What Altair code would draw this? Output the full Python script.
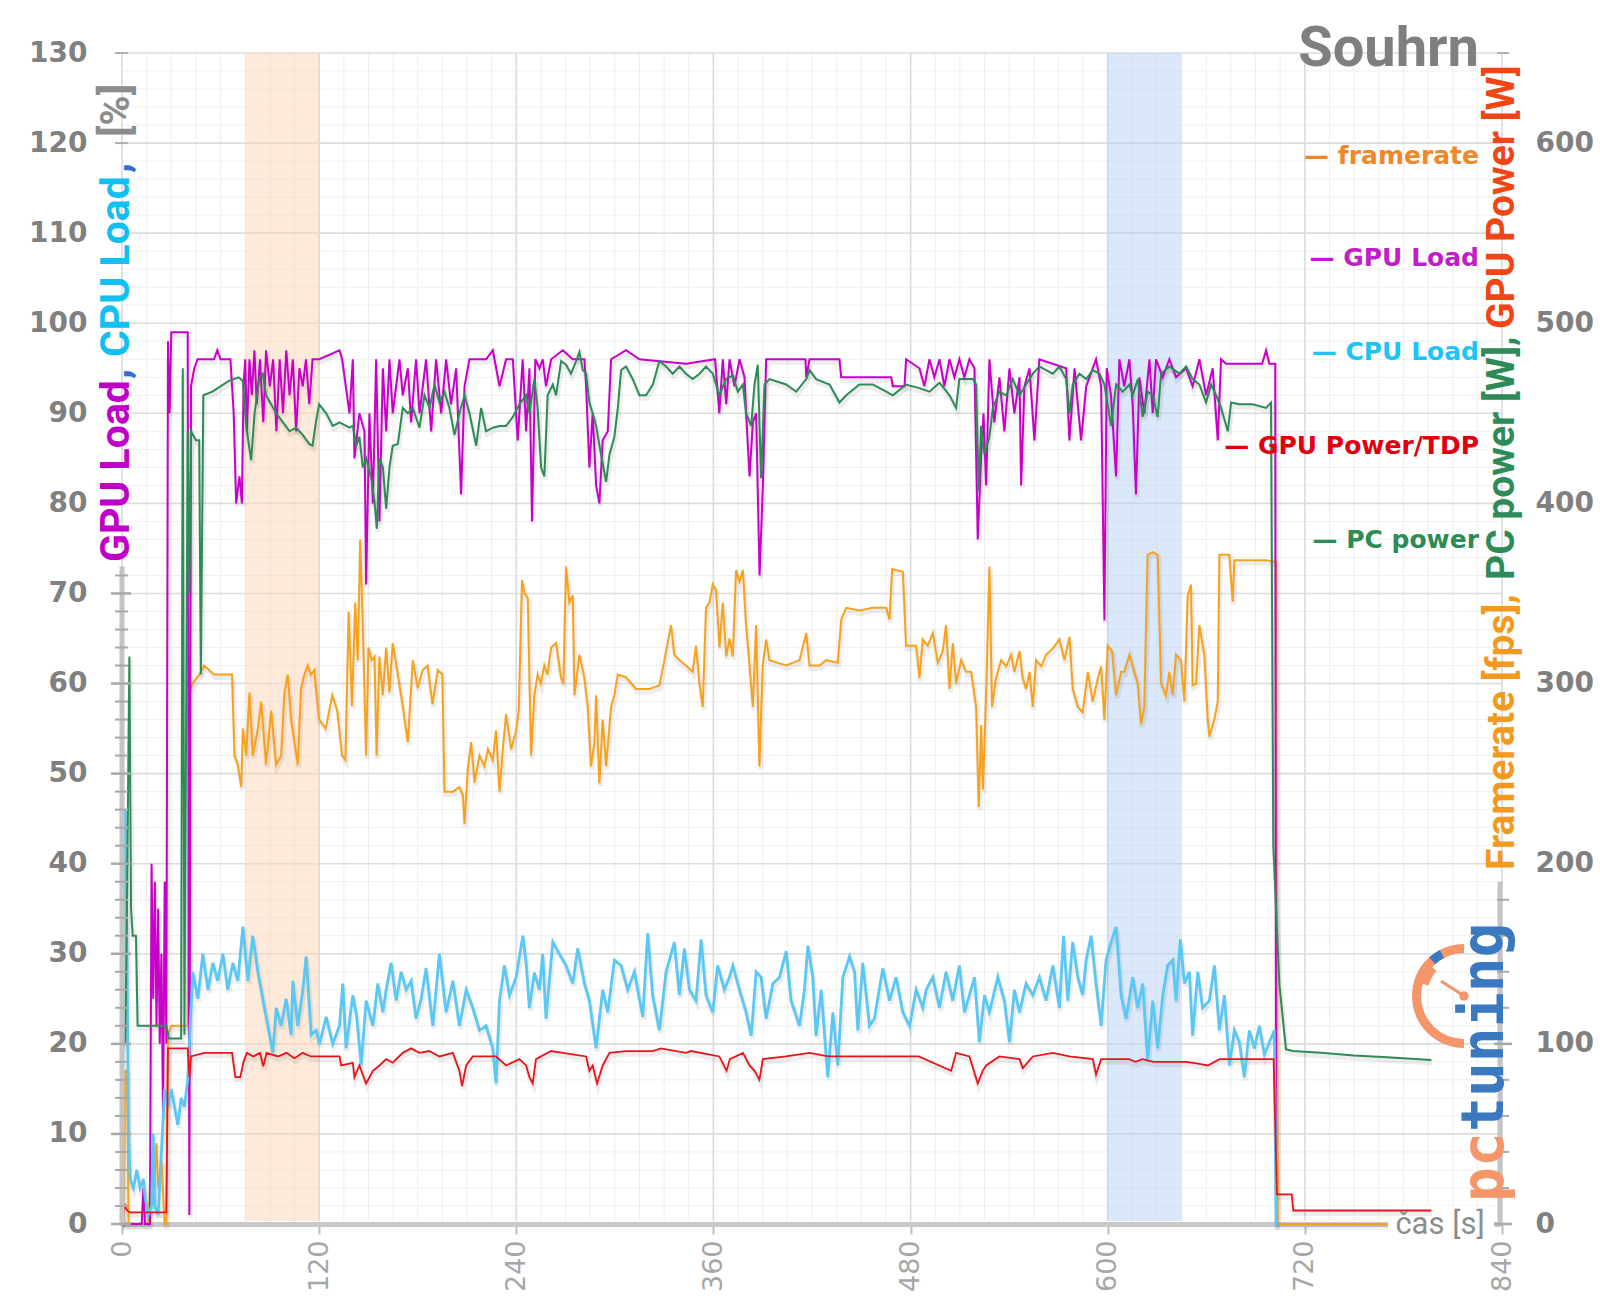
import altair as alt
import pandas as pd

# ---------------- data ----------------
FRAMERATE = [(0,0),(1,0),(2,17),(3,17),(4,0),(16,0),(18,8),(19,2),(21,9),(22,4),(24,7),(26,0),(27,0),(28,21),(30,22),(40,22),(41,59),(43,60),(47,61),(50,62),(56,61),(67,61),(68.5,52),(70.5,51),(72.6,48.5),(73.6,55),(75.6,52),(77.6,59),(79.6,52),(82.7,55),(84.7,58),(87.7,51),(90.8,57),(93.8,51),(96.9,52),(98.9,59),(100.9,61),(103,56),(105,53.5),(107,51),(109,59.5),(111,61),(113,62),(115,61),(117,61.5),(120,56),(124,55),(128,58.7),(131,57),(134,52),(136,51.5),(138,68),(140,57.5),(142,69),(143.5,62.6),(145,76),(146.5,67),(148.6,52),(150,64),(152,62.6),(153.7,63),(155,52),(156.7,63),(158.7,58.7),(160.8,64),(162.8,59),(164.8,64.5),(167.9,61),(170.9,57.5),(174,53.5),(177,62.6),(180,59.5),(183,61.5),(186,62),(189,57.7),(192.2,61.5),(195,61),(196.3,48),(201.4,48),(205.4,48.5),(207.5,47.6),(208.5,44.4),(210.5,50.5),(212.5,53.5),(214.6,49),(217.6,52),(220.6,50.8),(222.7,52.7),(225.7,51.5),(227.7,54.8),(229.8,48),(231.8,52.7),(233.8,56.6),(236.9,52.7),(239.9,54.8),(241.5,57),(243.5,71.5),(245,70),(247,69.5),(249,52),(251,58.7),(253,61),(255,60),(257,62),(259,61),(261.2,64),(264.2,64.5),(267.3,60.6),(268.7,60),(270.3,73),(272.3,69),(274.4,69.8),(275.4,58.7),(278.4,63.2),(281.5,60.6),(283.5,57.4),(285.5,50.8),(287.6,53.5),(288.6,58.7),(290.6,48.9),(292.6,56),(294.7,50.8),(297.7,57.4),(299.7,58.7),(301.8,61),(306.8,60.7),(312.9,59.4),(321,59.4),(327.1,59.8),(329.1,61.6),(331.2,63.6),(334.2,66.5),(336.2,63.2),(339.3,62.6),(343.3,62),(347.4,61.3),(349.4,64.2),(351.5,60),(353.5,57.4),(355.5,68.4),(357.6,69),(359.6,71),(361.6,70.4),(363.7,64),(365.7,69),(367.8,63),(369.8,65),(371.8,63),(373.8,72.6),(375.9,71.3),(377.9,72.6),(379.9,66.5),(382,62),(384,57.4),(386,66.5),(388,50.8),(390,62),(392.1,64.9),(394.1,62.6),(404.3,62),(412.4,62.6),(416.5,65.6),(418.5,62),(424.6,62),(428.6,62.6),(435.7,62.3),(437.8,67.1),(440.8,68.4),(449,68.1),(457,68.4),(465.2,68.4),(467.2,67.1),(468.8,72.7),(475.3,72.4),(477.3,64.2),(483.4,64.2),(485.4,60.6),(487.4,64.9),(490.5,64.2),(493.5,65.6),(496.6,62.3),(499.6,63.6),(501.6,66.5),(503.7,59.4),(505.7,64.5),(507.7,60),(510.8,62.6),(513.8,61.3),(516.9,61.3),(519.9,57.4),(521.5,46.3),(523,55.4),(524,48.2),(526,58.7),(528,73),(529.6,57.4),(532,60.6),(535.1,62.6),(538.2,61.9),(541.2,63.2),(543.2,61.3),(546.3,63.6),(548.3,60.6),(550.3,59.4),(552.4,61.3),(554.4,57.4),(556.4,62.6),(559.5,61.9),(562.5,63.2),(566.6,63.9),(570.6,64.9),(573.7,62.6),(576.7,65.2),(578.7,59.4),(581.8,57.4),(584.8,56.8),(587.9,61.3),(590.9,58),(594,60.6),(596,61.9),(598,56),(600,64.2),(602.7,63.6),(605.1,58.7),(608.2,61.3),(610.1,61.3),(613.2,63.2),(616.2,61.3),(618.3,60),(620.3,55.5),(622.3,57.4),(624.3,74.3),(627.4,74.6),(630.4,74.3),(632.5,60),(635.5,58.7),(637.5,61.3),(639.6,58.7),(641.6,63.2),(644.6,62.6),(646.7,58),(648.7,69.8),(650.7,71),(651.7,59.8),(653.8,60),(655.8,66.5),(658.8,63.2),(660.9,56),(661.9,54.1),(664.9,56),(667,58),(668,74.3),(674,74.3),(676.1,69.1),(677.1,73.7),(680.1,73.7),(696.4,73.7),(702.5,73.5),(703.5,0),(770,0)]

GPU_LOAD = [(0,0),(12,0),(13,4),(14,0),(17,0),(18,40),(19,25),(20,38),(21,22),(22,35),(23,20),(24,30),(25,12),(26,38),(27,20),(28,98),(29,90),(30,99),(40,99),(41,1),(42,93),(44,95),(46,96),(56,96),(58,97),(60,96),(66,96),(68,90),(69.5,80),(71.5,83),(73,80),(74,93),(75,96),(76,88),(77.6,96),(79,92),(80.6,97),(82,91),(84,96),(86,89),(87.7,97),(90,93),(92,96),(94,88),(96,96),(98,90),(100,97),(102,92),(104,96),(106,88),(108,95),(110,93),(112,96),(114,91),(116,96),(120,96),(132.4,97),(134,96),(138.5,90),(140.5,96),(141.5,85),(144.5,90),(147.6,88),(148.6,71),(150.6,90),(152.7,80),(154.7,96),(156.7,78),(158.8,95),(160.8,88),(162.8,96),(164.8,90),(168.9,96),(170.9,92),(174,95),(176,89),(179,96),(181.1,90),(185.1,96),(188.2,88),(191.2,96),(194.3,90),(197.3,96),(200.3,91),(203.4,95),(206.4,81),(208.5,93),(211.5,96),(221.6,96),(225.7,97),(229.8,93),(233.8,96),(237.9,96),(240.9,87),(243.9,96),(246,88),(248,95),(249.6,78),(251.6,96),(254.1,95),(256.1,96),(258.1,93),(261.2,96),(268.3,97),(274.4,96),(281.5,96),(282.5,93),(284.5,84),(286.5,90),(288.6,82),(290.6,80),(292.6,87),(295.7,88),(297.7,96),(306.8,97),(315,96),(343.3,95.5),(361,96),(363.6,90),(365.7,96),(367.8,91),(369.8,96),(372.8,93),(375.9,96),(378.9,94),(379.9,90),(382,83),(384,89),(386,90),(388.1,72),(390.1,82),(392.1,96),(416,96),(416.5,94),(418.5,96),(436.7,96),(437.8,94),(468.2,94),(469.2,93),(476.3,93),(477.3,96),(485.4,95),(488.4,93),(491.5,96),(494.5,94),(497.6,96),(500.6,93),(503.7,96),(506.7,94),(509.7,96),(512.8,94),(515.8,96),(518.9,95),(520.9,76),(522.9,85),(524.4,90),(526,82),(528,96),(531,89),(534.1,94),(537.1,88),(540.2,95),(543.2,90),(546.3,94),(547.3,82),(549.3,93),(552.4,95),(555.4,87),(558.4,96),(574.7,95),(576.7,87),(579.8,95),(583.8,87),(586.9,93),(592.9,96),(596,93),(598,67),(599.4,95),(602,92),(605.1,83),(607.1,96),(610.1,93),(613.2,96),(615.2,91),(617.2,81),(619.3,94),(622.3,90),(625.4,96),(627.4,90),(629.4,96),(633.5,94),(637.5,96),(641.6,94),(647.7,95),(651.7,93),(655.8,96),(659.9,92),(663.9,95),(667,87),(669,96),(672,95.5),(694,95.5),(696.4,97),(698.4,95.5),(702,95.5),(702.5,0),(704,0)]

CPU_LOAD = [(0,0),(1,45),(2,46),(3,30),(4,10),(5,5),(7,4),(9,6),(11,4),(13,5),(14,3),(16,1),(18,2),(19,10),(20,2),(22,1),(24,8),(26,15),(28,13),(30,15),(32,13),(34,11),(36,14),(38,13),(40,16),(41,20),(43.1,28),(46.2,25),(49.2,30),(52.3,26),(55.3,29),(58.3,27),(61.4,30),(64.4,26),(67.5,29),(70.5,27),(73.6,33),(76.6,27),(79.6,32),(82.7,28),(85.7,25),(88.8,22),(91.8,19),(93.9,24),(96.9,22),(99.9,25),(103,21),(104,27),(107,22),(110.1,26),(112.1,29.7),(115.2,21),(118.2,21.5),(120.2,20),(124.3,23),(128.3,20),(132.4,22),(134.4,26.7),(136.4,19.5),(140.5,25.4),(142.9,23),(145.6,17.6),(148.6,24.8),(152.7,22),(155.7,26.7),(158.8,23.5),(160.8,26),(163.8,29),(166.9,24.8),(169.9,28),(173,26),(176,27),(179,22.8),(182.1,25),(185.1,28.4),(189.2,22),(193.2,30),(197.3,23.5),(201.4,27),(205.4,22),(209.5,26),(213.5,24),(217.6,21.5),(221.6,22),(225.7,19.5),(227.7,15.6),(229.8,24.8),(232.8,28.7),(235.9,25.4),(239.9,27.4),(244,32),(246,29),(248,24),(251,27.9),(254.1,26),(256.1,30),(258.1,22.8),(262.2,31.3),(266.2,30),(270.3,28.7),(274.4,26.7),(277.4,30.6),(281.5,26.7),(284.5,24.8),(288.6,19.5),(292.6,26),(295.7,23.5),(299.7,29.3),(303.8,28.7),(307.8,26),(311.9,28),(317,23),(320,32.3),(323,25.4),(327.1,21.5),(331.2,28),(336.2,31.3),(339.3,25.4),(342.3,30.6),(345.4,26),(349.4,24.8),(352.5,31.6),(355.5,25.4),(359.6,23.5),(362.6,28.7),(366.7,26),(369.7,27.4),(371.8,28.7),(375.9,26),(379.9,23.5),(383,20.9),(386,28),(389,27.4),(392.1,22.8),(396.2,26.7),(400.2,27.4),(404.3,30.3),(407.3,24.8),(412.4,22),(415.4,26),(417.5,30.9),(420.5,27.4),(422.5,20.9),(425.6,26),(429.6,16.3),(432.7,23.5),(435.7,17.6),(438.8,27.4),(442.8,29.7),(445.9,28),(447.9,21.5),(450.9,29),(455,22),(458,22.8),(463.1,28.4),(467.2,24.8),(471.2,27.4),(475.3,23.5),(479.4,22),(483.4,26),(487.5,24),(489.5,26),(493.5,27.4),(497.6,24),(501.6,28),(505.7,24.8),(509.7,28.7),(512.8,23.5),(515.8,25.4),(518.9,27.4),(521.9,20.2),(525,25.4),(528,23.5),(533.1,27.4),(537.1,24.8),(540.2,20.2),(543.2,26),(546.3,23.5),(550.3,26.7),(554.4,25.4),(558.4,27.4),(562.5,24.8),(566.6,28.7),(570.6,24),(573.1,32),(575.7,24.8),(578.7,31.3),(581.8,27.4),(584.8,25.4),(586.9,29.3),(589.9,32),(592.9,26.7),(596,22),(599,29.3),(602.1,31.3),(605.1,33),(608.2,25.4),(611.2,22.8),(615.2,27.4),(618.3,24),(621.3,26.7),(624.3,18.3),(627.4,24.8),(630.4,19.5),(633.5,25.4),(636.5,28.7),(639.6,29.3),(641.6,24.8),(644.2,31.6),(646.7,26.7),(649.7,28),(651.7,20.9),(654.8,28),(657.8,24),(661.9,24.8),(664.9,28.7),(668,21.5),(671,25.4),(674.1,17.6),(677.1,21.5),(680.1,20.2),(683.2,16.3),(686.2,21.5),(689.3,19.5),(692.3,22),(695.4,18.8),(698.4,20.2),(701.4,21.5),(702.5,0),(704,0)]

GPU_POWER_TDP = [(0,0),(1,1.5),(2,2),(3,1.5),(5,1.3),(27,1.3),(28,19.5),(40,19.5),(41,16.3),(42,18.6),(50,19),(60,19),(67,19),(69,16.3),(72,16.3),(74,18),(76,19),(80,18.6),(84,19),(86,17.5),(88,19),(95,18.6),(100,19),(105,18.4),(110,19),(115,18.6),(120,18.6),(132.4,18.6),(133.4,17.6),(140.5,17.9),(141.5,16.3),(144.5,17.6),(148.6,15.6),(152.7,17),(156.7,17.6),(160.8,18.3),(164.8,17.9),(170.9,19),(176,19.5),(181,19),(187,19.2),(193.2,18.6),(201.4,19),(205.4,17),(207,15.3),(209.5,17.6),(213.5,18.6),(221.6,18.6),(227.7,18.6),(233.8,17.6),(241.9,18.3),(246,17.6),(248,16.3),(250,15.6),(252,18.3),(261.2,19.2),(268.3,19),(282.5,18.6),(284.5,17),(286.5,17.6),(289.2,15.6),(292.6,17.6),(296.7,19),(306.8,19.2),(323,19.2),(328,19.5),(343.3,19),(346.4,19.2),(363.6,18.6),(368,17),(370,18.3),(378,19),(382,17.6),(385,17),(388,16),(390.1,18.3),(404,18.6),(418.5,19),(430,18.6),(485,18.6),(504.7,17),(507.7,19),(515.8,18.6),(520.9,15.6),(523.9,17),(526,17.6),(534,18.6),(546.3,18.3),(548.3,17.3),(554.4,18.6),(566.6,19),(576.7,18.6),(590.9,18.3),(592.9,16.6),(596,18.3),(613,18.3),(617,18),(621,18.3),(628,18),(647.7,18),(655,17.8),(661,17.6),(668,18.3),(701,18.3),(703,3.3),(712,3.3),(713,1.5),(797,1.5)]

PC_POWER_W = [(0,98),(2,100),(3,175),(4.5,315),(5.5,175),(6.5,160),(8.5,160),(9.5,110),(27,110),(28.5,103),(36,103),(37,475),(38,105),(40,440),(41,350),(42,440),(45,435),(47,435),(48,305),(49.5,460),(55,462),(65,468),(71,470),(73.6,468),(75.6,443),(78.6,424),(80.7,450),(83.7,470),(85.7,472),(87.7,460),(93.8,450),(98,445),(102,440),(106,442),(110,438),(114,433),(116,432),(118,445),(120,455),(124.3,450),(128.3,443),(132.4,445),(138.5,442),(140.5,443),(142.5,432),(144.5,437),(146.6,420),(148.6,425),(151.7,414),(153.7,401),(155.1,386),(156.7,425),(158.8,420),(160.8,397),(162.8,420),(164.8,432),(167.9,433),(170.9,453),(174,450),(177,453),(181.1,442),(184.1,460),(187.2,453),(190.2,466),(193.2,456),(196.3,462),(199.3,453),(202.4,438),(205.4,450),(208.5,460),(211.5,450),(215.6,432),(218.6,453),(221.6,440),(225.7,442),(229.8,443),(233.8,443),(237.9,448),(241.9,455),(246,460),(248,450),(251,469),(253,453),(255.1,420),(257.1,415),(259.1,460),(262.2,466),(264.2,460),(267.3,479),(270.3,477),(273.3,472),(276.4,479),(278.4,484),(280.5,474),(282.5,472),(284.5,456),(286.5,450),(288.6,443),(291.6,427),(294.7,412),(296.7,427),(299.7,437),(301.8,453),(303.8,474),(306.8,476),(310.9,469),(315,460),(319,460),(323.1,466),(327.1,479),(331.2,476),(335.2,472),(339.3,476),(343.3,472),(347.4,469),(351.5,472),(355.5,476),(359.6,472),(363.6,460),(367.7,469),(371.8,471),(374.9,462),(377.9,466),(379.9,450),(383,443),(385,466),(387,477),(389,414),(391.1,466),(394.1,469),(404.3,466),(410.4,462),(416.5,469),(418.5,474),(422.5,469),(430.7,466),(436.7,456),(440.8,460),(448.9,466),(457,466),(465.2,462),(469.2,460),(477.3,466),(485.4,464),(491.5,462),(497.6,467),(503.7,460),(507.7,453),(509.7,469),(517.9,469),(519.9,466),(521.5,407),(522.9,443),(525,427),(528,437),(530.1,453),(534.1,462),(538.2,460),(542.2,469),(546.3,460),(550.3,466),(554.4,472),(558.4,476),(562.5,474),(566.6,472),(570.6,476),(574.7,469),(576.7,450),(578.7,466),(582.8,472),(586.9,469),(590.9,474),(595,472),(598,466),(602.1,443),(605.1,466),(609.2,462),(613.2,466),(615.2,460),(618.3,469),(621.3,448),(624.3,462),(627.4,460),(630.4,448),(632.5,472),(637.5,476),(643.6,472),(647.7,476),(651.7,469),(655.8,466),(659.9,456),(662.9,466),(666,460),(669,453),(673.1,440),(675.1,456),(680.1,455),(688.3,455),(696.4,453),(699.4,456),(700.8,210),(704.5,133),(708.5,97),(712.6,96),(730,95),(750,93.5),(770,92.5),(797,91)]

X_LABELS = list(range(0, 841, 120))
X_GRID = list(range(0, 841, 15))
Y_LEFT_LABELS = list(range(0, 131, 10))
Y_LEFT_GRID = list(range(2, 131, 2))
Y_RIGHT_LABELS = list(range(0, 601, 100))
LEFT_TICKS = list(range(0, 73, 2))
RIGHT_TICKS_W = list(range(0, 181, 20))
BANDS = {"start": [75, 600], "end": [120, 645], "color": ["#fbd5b5", "#b5d1f5"]}
LEGEND = [("framerate", "#f0882a"), ("GPU Load", "#c01fc8"), ("CPU Load", "#1ec4f4"),
          ("GPU Power/TDP", "#e00010"), ("PC power", "#2e8b57")]

# ---------------- chart ----------------
W, H = 1380, 1171
GRAY = "#808080"
xs = alt.Scale(domain=[0, 840], nice=False, zero=False)
yls = alt.Scale(domain=[0, 130], nice=False)
yrs = alt.Scale(domain=[0, 650], nice=False)


def series_df(pairs):
    return pd.DataFrame({"t": [p[0] for p in pairs], "v": [p[1] for p in pairs]})


x_axis = alt.Axis(orient="bottom", values=X_LABELS, labelAngle=270, labelFont="DejaVu Sans",
                  labelFontSize=27, labelColor="#a6a6a6", labelPadding=6, labelFlush=False,
                  tickSize=10, tickWidth=2, tickColor="#bdbdbd",
                  domainColor="#c8c8c8", domainWidth=5, grid=False, title=None)
yl_axis = alt.Axis(orient="left", values=Y_LEFT_LABELS, labelFont="DejaVu Sans",
                   labelFontWeight="bold", labelFontSize=28, labelColor=GRAY, labelPadding=35,
                   ticks=False, domain=False, grid=False, title=None)
yr_axis = alt.Axis(orient="right", values=Y_RIGHT_LABELS, labelFont="DejaVu Sans",
                   labelFontWeight="bold", labelFontSize=28, labelColor=GRAY,
                   labelPadding=33, ticks=False, domain=False, grid=False, title=None)

ONE = pd.DataFrame({"k": [0]})


def text(t, x, y, color, size, font="Roboto", weight="bold", angle=0, align="left",
         baseline="middle"):
    return alt.Chart(ONE).mark_text(text=t, color=color, fontSize=size, font=font,
                                    fontWeight=weight, angle=angle, align=align,
                                    baseline=baseline).encode(x=alt.value(x), y=alt.value(y))


def line(pairs, color, width, axes=False, scale=yls, yaxis=None, **kw):
    return alt.Chart(series_df(pairs)).mark_line(color=color, strokeWidth=width, **kw).encode(
        x=alt.X("t:Q", scale=xs, axis=x_axis if axes else None),
        y=alt.Y("v:Q", scale=scale, axis=yaxis),
    )


def shadow(pairs, scale=yls):
    return line(pairs, "#000000", 5, scale=scale, opacity=0.07, yOffset=3, xOffset=1)


gx = pd.DataFrame({"g": X_GRID})
gy = pd.DataFrame({"g": Y_LEFT_GRID})
grid_x_minor = alt.Chart(gx).transform_filter("datum.g % 120 !== 0").mark_rule(
    color="#eeeeee", strokeWidth=1).encode(
    x=alt.X("g:Q", scale=xs, axis=None), y=alt.value(0), y2=alt.value(H - 3))
grid_y_minor = alt.Chart(gy).transform_filter("datum.g % 10 !== 0").mark_rule(
    color="#efefef", strokeWidth=1).encode(
    y=alt.Y("g:Q", scale=yls, axis=None), x=alt.value(0), x2=alt.value(W))
grid_x_major = alt.Chart(gx).transform_filter("datum.g % 120 === 0").mark_rule(
    color="#d6dae2", strokeWidth=1.6).encode(
    x=alt.X("g:Q", scale=xs, axis=None), y=alt.value(0), y2=alt.value(H - 3))
grid_y_major = alt.Chart(gy).transform_filter("datum.g % 10 === 0").mark_rule(
    color="#dcdcdc", strokeWidth=1.6).encode(
    y=alt.Y("g:Q", scale=yls, axis=None), x=alt.value(0), x2=alt.value(W))

bands = alt.Chart(pd.DataFrame(BANDS)).mark_rect(opacity=0.5).encode(
    x=alt.X("start:Q", scale=xs, axis=None), x2="end:Q",
    y=alt.value(0), y2=alt.value(H - 3),
    color=alt.Color("color:N", scale=None),
)

# custom left axis line and cross ticks
lt = pd.DataFrame({"v": LEFT_TICKS})
left_line = alt.Chart(pd.DataFrame({"a": [0], "b": [73]})).mark_rule(
    color="#c4c4c4", strokeWidth=5).encode(
    x=alt.value(0), y=alt.Y("a:Q", scale=yls, axis=None), y2="b:Q")
left_major = alt.Chart(lt).transform_filter("datum.v % 10 === 0").mark_rule(
    color="#a8a8a8", strokeWidth=2.5).encode(
    x=alt.value(-11), x2=alt.value(9), y=alt.Y("v:Q", scale=yls, axis=None))
left_minor = alt.Chart(lt).transform_filter("datum.v % 10 !== 0").mark_rule(
    color="#a8a8a8", strokeWidth=2).encode(
    x=alt.value(-7), x2=alt.value(6), y=alt.Y("v:Q", scale=yls, axis=None))
left_top = alt.Chart(pd.DataFrame({"v": [120, 130]})).mark_rule(
    color="#b0b0b0", strokeWidth=2).encode(
    x=alt.value(-7), x2=alt.value(6), y=alt.Y("v:Q", scale=yls, axis=None))

# custom right axis line and ticks (in W)
rt = pd.DataFrame({"w": RIGHT_TICKS_W})
right_line = alt.Chart(pd.DataFrame({"a": [0], "b": [190]})).mark_rule(
    color="#c4c4c4", strokeWidth=5).encode(
    x=alt.value(W - 2), y=alt.Y("a:Q", scale=yrs, axis=None), y2="b:Q")
right_major = alt.Chart(rt).transform_filter("datum.w % 100 === 0").mark_rule(
    color="#a8a8a8", strokeWidth=2.5).encode(
    x=alt.value(W - 8), x2=alt.value(W + 10), y=alt.Y("w:Q", scale=yrs, axis=None))
right_minor = alt.Chart(rt).transform_filter("datum.w % 100 !== 0").mark_rule(
    color="#a8a8a8", strokeWidth=2).encode(
    x=alt.value(W - 5), x2=alt.value(W + 7), y=alt.Y("w:Q", scale=yrs, axis=None))
right_top = alt.Chart(pd.DataFrame({"w": [650]})).mark_rule(
    color="#b0b0b0", strokeWidth=2).encode(
    x=alt.value(W - 5), x2=alt.value(W + 7), y=alt.Y("w:Q", scale=yrs, axis=None))

# white patch under the x-axis title
cas_bg = alt.Chart(ONE).mark_rect(color="white").encode(
    x=alt.value(1266), x2=alt.value(1372), y=alt.value(H - 18), y2=alt.value(H + 8))

layers = [line(FRAMERATE, "#f7a21b", 0.01, axes=True, yaxis=yl_axis),  # carries x and left axes
          line(PC_POWER_W, "#2e8b57", 0.01, scale=yrs, yaxis=yr_axis),  # carries right axis
          grid_x_minor, grid_y_minor, grid_x_major, grid_y_major, bands, cas_bg,
          shadow(FRAMERATE), shadow(GPU_LOAD), shadow(CPU_LOAD), shadow(GPU_POWER_TDP),
          shadow(PC_POWER_W, scale=yrs),
          line(FRAMERATE, "#f7a21b", 2),
          line(GPU_LOAD, "#c800c8", 2),
          line(CPU_LOAD, "#5ac8f2", 2.8),
          line(GPU_POWER_TDP, "#e8141c", 1.8),
          line(PC_POWER_W, "#2e8b57", 2, scale=yrs),
          left_line, left_major, left_minor, left_top,
          right_line, right_major, right_minor, right_top]

# left axis title (multi-coloured, vertical)
for t, col, y in [("GPU Load", "#c000c8", 509), (",", "#2f6fd0", 326), ("CPU Load", "#10c0f0", 304),
                  (",", "#2f6fd0", 120), ("[%]", "#8c8c8c", 84)]:
    layers.append(text(t, -5, y, col, 41, angle=270))

# right axis title
for t, col, y in [("Framerate [fps],", "#f39a1e", 817), ("PC power [W],", "#2e8b57", 527),
                  ("GPU Power [W]", "#f04514", 276)]:
    layers.append(text(t, 1380, y, col, 39, angle=270))

# legend
for i, (name, col) in enumerate(LEGEND):
    layers.append(text("\u2014 " + name, 1357, [103, 205, 299, 393, 487][i], col, 25,
                       font="DejaVu Sans", align="right"))

layers.append(text("Souhrn", 1357, 13, "#7f7f7f", 56, align="right", baseline="alphabetic"))
layers.append(text("\u010das [s]", 1318, 1172, "#8c8c8c", 31, weight="normal", align="center"))

# pctuning logo
LOGO_ORANGE = "#f4956a"
LOGO_BLUE = "#3a78c0"
layers.append(alt.Chart(ONE).mark_arc(radius=52, radius2=43, theta=3.1416, theta2=6.2832,
                                      color=LOGO_ORANGE).encode(x=alt.value(1342), y=alt.value(943)))
layers.append(alt.Chart(ONE).mark_arc(radius=52, radius2=37, theta=5.0, theta2=5.45,
                                      color=LOGO_ORANGE).encode(x=alt.value(1342), y=alt.value(943)))
layers.append(alt.Chart(ONE).mark_arc(radius=52, radius2=43, theta=5.55, theta2=5.8,
                                      color=LOGO_BLUE).encode(x=alt.value(1342), y=alt.value(943)))
layers.append(alt.Chart(ONE).mark_rule(color=LOGO_ORANGE, strokeWidth=3).encode(
    x=alt.value(1319), x2=alt.value(1342), y=alt.value(928), y2=alt.value(943)))
layers.append(alt.Chart(ONE).mark_circle(color=LOGO_ORANGE, size=90, opacity=1).encode(
    x=alt.value(1342), y=alt.value(943)))
layers.append(text("pc", 1364, 1149, LOGO_ORANGE, 58, font="DejaVu Sans Mono", angle=270))
layers.append(text("tuning", 1364, 1079, LOGO_BLUE, 58, font="DejaVu Sans Mono", angle=270))

chart = alt.layer(*layers).resolve_scale(y="independent").resolve_axis(
    x="independent", y="independent").properties(
    width=W, height=H,
    autosize=alt.AutoSizeParams(type="none"),
    padding={"left": 122, "top": 53, "right": 98, "bottom": 89},
    background="white",
).configure_view(strokeWidth=0)

chart.save("out.html", embed_options={"renderer": "svg", "actions": False})
